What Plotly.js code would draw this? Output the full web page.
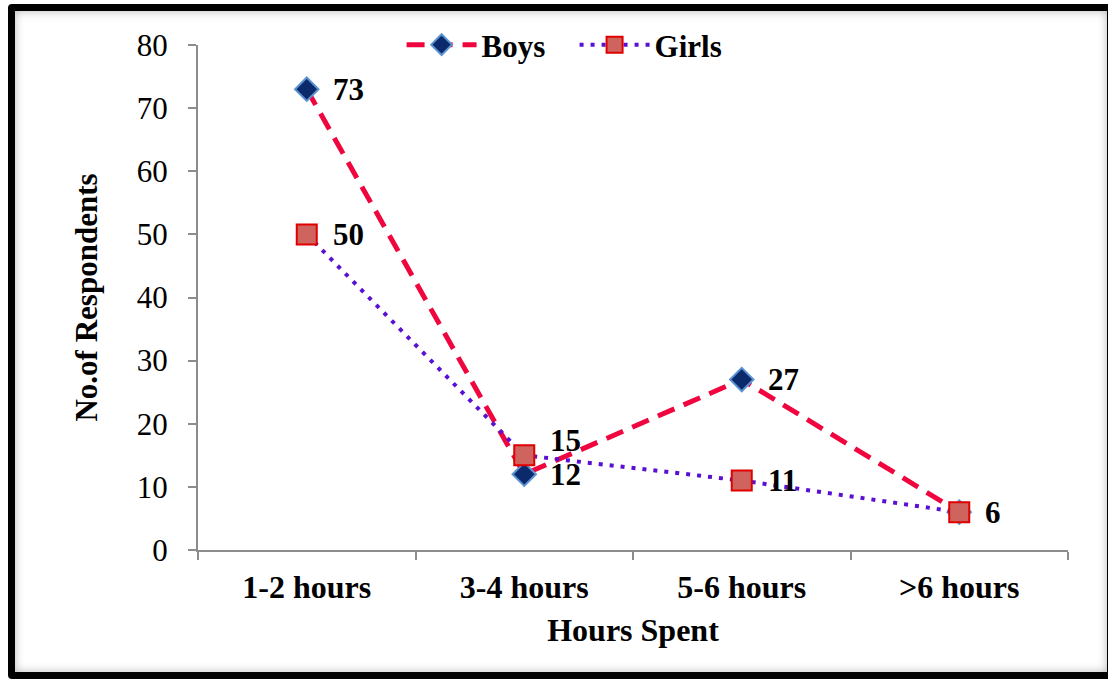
<!DOCTYPE html>
<html>
<head>
<meta charset="utf-8">
<script src="https://cdn.plot.ly/plotly-3.0.1.min.js"></script>
<style>
  html, body { margin:0; padding:0; background:#ffffff; width:1108px; height:679px; overflow:hidden; }
  #frame { position:absolute; left:8px; top:4px; width:1106px; height:675px; box-sizing:border-box;
           border:7px solid #000; border-radius:4px;
           box-shadow: inset 0 0 10px rgba(0,0,0,0.28); background:#fff; z-index:0; }
  #chart { position:absolute; left:0; top:0; width:1108px; height:679px; z-index:1; }
</style>
</head>
<body>
<div id="frame"></div>
<div id="chart"></div>
<script>
const categories = ["1-2 hours", "3-4 hours", "5-6 hours", ">6 hours"];
const boys = [73, 12, 27, 6];
const girls = [50, 15, 11, 6];
const boysLabels = ["73", "12", "27", ""];
const girlsLabels = ["50", "15", "11", "6"];
const boysLabelShift = [0, 0, 0, 0];
const girlsLabelShift = [0, 15, 0, 0];

const FONT = "Liberation Serif, Times New Roman, serif";

const traces = [
  {
    x: categories, y: boys, name: "Boys", type: "scatter", mode: "lines+markers",
    line: { color: "#F0063E", width: 5, dash: "18px,10px" },
    marker: { symbol: "diamond", size: 18, color: "#0B2A6B", line: { color: "#5A92D2", width: 2 } }
  },
  {
    x: categories, y: girls, name: "Girls", type: "scatter", mode: "lines+markers",
    line: { color: "#5A10D2", width: 4, dash: "4px,7px" },
    marker: { symbol: "square", size: 20, color: "#CF645F", line: { color: "#E00000", width: 2 } }
  }
];

const annotations = [];
function addLabels(vals, labels, shifts) {
  for (let i = 0; i < vals.length; i++) {
    if (!labels[i]) continue;
    annotations.push({
      x: categories[i], y: vals[i], xref: "x", yref: "y", text: "<b>" + labels[i] + "</b>",
      showarrow: false, xanchor: "left", yanchor: "middle", xshift: 24, yshift: shifts[i],
      font: { family: FONT, size: 31, color: "#000" }
    });
  }
}
addLabels(boys, boysLabels, boysLabelShift);
addLabels(girls, girlsLabels, girlsLabelShift);

const layout = {
  width: 1108, height: 679,
  margin: { l: 198, r: 40, t: 45, b: 129 },
  paper_bgcolor: "rgba(0,0,0,0)", plot_bgcolor: "rgba(0,0,0,0)",
  font: { family: FONT, color: "#000" },
  showlegend: true,
  legend: {
    orientation: "h", x: 0.234, xanchor: "left", y: 1.0, yanchor: "middle",
    bgcolor: "rgba(0,0,0,0)", font: { family: FONT, size: 31, color: "#000", weight: "bold" },
    itemwidth: 70, entrywidth: 88, entrywidthmode: "pixels"
  },
  xaxis: {
    type: "category", range: [-0.5, 3.5], showgrid: false, zeroline: false,
    showline: true, linecolor: "#8C8C8C", linewidth: 2,
    ticks: "outside", tickson: "boundaries", ticklen: 8, tickcolor: "#8C8C8C", tickwidth: 2,
    tickfont: { family: FONT, size: 32, color: "#000", weight: "bold" },
    ticklabelstandoff: 8,
    title: { text: "<b>Hours Spent</b>", font: { family: FONT, size: 32, color: "#000" }, standoff: 14 },
    automargin: false
  },
  yaxis: {
    range: [0, 80], dtick: 10, showgrid: false, zeroline: false,
    showline: true, linecolor: "#8C8C8C", linewidth: 2,
    ticks: "outside", ticklen: 8, tickcolor: "#8C8C8C", tickwidth: 2,
    tickfont: { family: FONT, size: 31, color: "#000" },
    ticklabelstandoff: 14,
    title: { text: "<b>No.of Respondents</b>", font: { family: FONT, size: 31, color: "#000" }, standoff: 30 },
    automargin: false
  },
  annotations: annotations
};

Plotly.newPlot("chart", traces, layout, { displayModeBar: false, staticPlot: true });
</script>
</body>
</html>
